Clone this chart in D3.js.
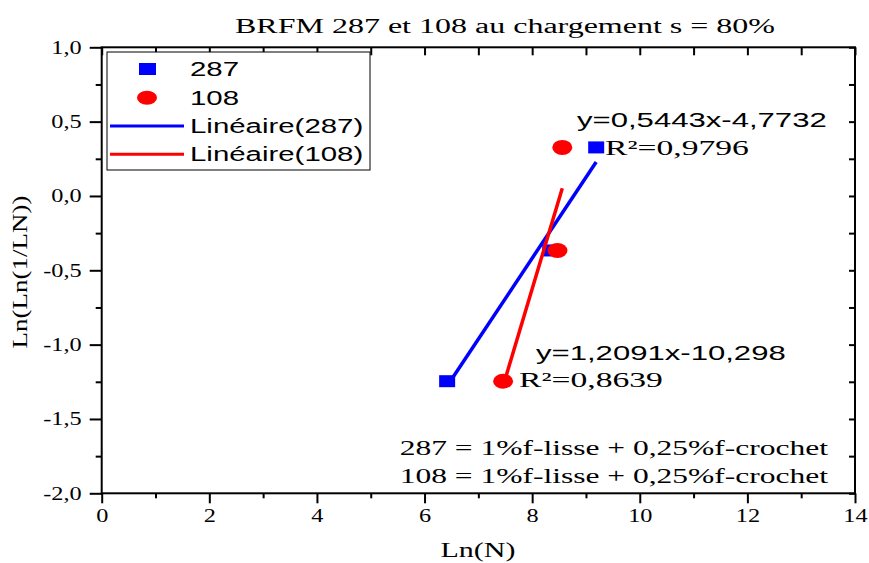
<!DOCTYPE html>
<html>
<head>
<meta charset="utf-8">
<script src="https://cdn.jsdelivr.net/npm/d3@7"></script>
<style>
  body { margin: 0; background: #fff; }
  svg { display: block; }
</style>
</head>
<body>
<svg id="chart" width="869" height="563"></svg>
<script>
// data
const seriesNames = ["287", "108"];
const lnN287 = [6.42, 8.336, 9.19];
const lnLn287 = [-1.2459, -0.3665, 0.3266];
const lnN108 = [7.46, 8.47, 8.56];
const lnLn108 = [-1.2459, -0.3665, 0.3266];
const fitSlope = [0.5443, 1.2091];
const fitIntercept = [-4.7732, -10.298];
const fitEquations = ["y=0,5443x-4,7732", "y=1,2091x-10,298"];
const fitR2 = ["R²=0,9796", "R²=0,8639"];
const xTicks = [0, 2, 4, 6, 8, 10, 12, 14];
const yTicks = [-2, -1.5, -1, -0.5, 0, 0.5, 1];
const notes = ["287 = 1%f-lisse + 0,25%f-crochet", "108 = 1%f-lisse + 0,25%f-crochet"];

const serif = "'Liberation Serif', 'Times New Roman', serif";
const sans = "'Liberation Sans', Arial, sans-serif";
const colors = ["#0000ff", "#ff0000"];

const svg = d3.select("#chart");
const plotL = 101.7, plotR = 855, plotT = 47.3, plotB = 493.3;

const x = d3.scaleLinear().domain([0, 14]).range([plotL, plotR]);
const y = d3.scaleLinear().domain([-2, 1]).range([plotB, plotT]);

const fmt = d => d3.format(".1f")(d).replace(".", ",").replace("−", "-");

// widen text like the original (it was stretched horizontally)
function stretch(sel, k) {
  sel.each(function () {
    const w = this.getComputedTextLength();
    d3.select(this).attr("textLength", w * k).attr("lengthAdjust", "spacingAndGlyphs");
  });
}

// minor ticks
const xMinor = d3.range(1, 14, 2);
const yMinor = d3.range(-1.75, 1, 0.5);

const gx = svg.append("g").attr("transform", `translate(0,${plotB})`);
gx.call(d3.axisBottom(x).tickValues(xMinor).tickSize(5).tickSizeOuter(0).tickFormat(""));
gx.select(".domain").remove();
const gx2 = svg.append("g").attr("transform", `translate(0,${plotB})`)
  .call(d3.axisBottom(x).tickValues(xTicks).tickSize(10).tickSizeOuter(0).tickPadding(6)
    .tickFormat(d => String(d)));
gx2.select(".domain").remove();
gx2.selectAll("text").attr("font-family", serif).attr("font-size", 18).attr("fill", "#000");

const gy = svg.append("g").attr("transform", `translate(${plotL},0)`);
gy.call(d3.axisLeft(y).tickValues(yMinor).tickSize(6).tickSizeOuter(0).tickFormat(""));
gy.select(".domain").remove();
const gy2 = svg.append("g").attr("transform", `translate(${plotL},0)`)
  .call(d3.axisLeft(y).tickValues(yTicks).tickSize(12).tickSizeOuter(0).tickPadding(8).tickFormat(fmt));
gy2.select(".domain").remove();
gy2.selectAll("text").attr("font-family", serif).attr("font-size", 18).attr("fill", "#000");

// inward ticks on top and right
const gt = svg.append("g").attr("transform", `translate(0,${plotT})`)
  .call(d3.axisTop(x).tickValues(d3.range(0, 15, 1)).tickSize(-8).tickSizeOuter(0).tickFormat(""));
gt.select(".domain").remove();
const gr = svg.append("g").attr("transform", `translate(${plotR},0)`)
  .call(d3.axisRight(y).tickValues(d3.range(-2, 1.01, 0.25)).tickSize(-6).tickSizeOuter(0).tickFormat(""));
gr.select(".domain").remove();

svg.selectAll(".tick line").attr("stroke", "#000").attr("stroke-width", 2);

// frame
svg.append("rect")
  .attr("x", plotL).attr("y", plotT)
  .attr("width", plotR - plotL).attr("height", plotB - plotT)
  .attr("fill", "none").attr("stroke", "#000").attr("stroke-width", 2);

stretch(gx2.selectAll("text"), 1.35);
stretch(gy2.selectAll("text"), 1.35);

// points
const pts287 = lnN287.map((v, i) => [v, lnLn287[i]]);
const pts108 = lnN108.map((v, i) => [v, lnLn108[i]]);

svg.append("g").selectAll("rect")
  .data(pts287).join("rect")
  .attr("x", d => x(d[0]) - 8).attr("y", d => y(d[1]) - 6)
  .attr("width", 16).attr("height", 12)
  .attr("fill", colors[0]);

svg.append("g").selectAll("ellipse")
  .data(pts108).join("ellipse")
  .attr("cx", d => x(d[0])).attr("cy", d => y(d[1]))
  .attr("rx", 10).attr("ry", 7.5)
  .attr("fill", colors[1]);

// fitted lines
[lnN287, lnN108].forEach((xs, i) => {
  const ext = d3.extent(xs);
  svg.append("line")
    .attr("x1", x(ext[0])).attr("y1", y(fitSlope[i] * ext[0] + fitIntercept[i]))
    .attr("x2", x(ext[1])).attr("y2", y(fitSlope[i] * ext[1] + fitIntercept[i]))
    .attr("stroke", colors[i]).attr("stroke-width", 3.5);
});

// equation labels
const eqPos = [[577, 127], [536, 360]];
const r2Pos = [[605, 155], [519, 387]];
fitEquations.forEach((t, i) => {
  svg.append("text").attr("x", eqPos[i][0]).attr("y", eqPos[i][1])
    .attr("font-family", sans).attr("font-size", 21).text(t)
    .call(stretch, 1.48);
  svg.append("text").attr("x", r2Pos[i][0]).attr("y", r2Pos[i][1])
    .attr("font-family", serif).attr("font-size", 21).text(fitR2[i])
    .call(stretch, 1.6);
});

// notes
notes.forEach((t, i) => {
  svg.append("text").attr("x", 828).attr("y", 455 + i * 28)
    .attr("text-anchor", "end")
    .attr("font-family", serif).attr("font-size", 21).text(t)
    .call(stretch, 1.5);
});

// legend
const lg = svg.append("g");
lg.append("rect").attr("x", 107).attr("y", 52).attr("width", 263).attr("height", 118)
  .attr("fill", "#fff").attr("stroke", "#000").attr("stroke-width", 1);
const legendLabels = [seriesNames[0], seriesNames[1], `Linéaire(${seriesNames[0]})`, `Linéaire(${seriesNames[1]})`];
const rowY = [69, 97.7, 126, 154.3];
lg.append("rect").attr("x", 139).attr("y", rowY[0] - 6).attr("width", 17).attr("height", 12).attr("fill", colors[0]);
lg.append("ellipse").attr("cx", 147).attr("cy", rowY[1]).attr("rx", 10).attr("ry", 7).attr("fill", colors[1]);
lg.append("line").attr("x1", 110).attr("x2", 184).attr("y1", rowY[2]).attr("y2", rowY[2])
  .attr("stroke", colors[0]).attr("stroke-width", 3);
lg.append("line").attr("x1", 110).attr("x2", 184).attr("y1", rowY[3]).attr("y2", rowY[3])
  .attr("stroke", colors[1]).attr("stroke-width", 3);
lg.selectAll("text.lab").data(legendLabels).join("text").attr("class", "lab")
  .attr("x", 190).attr("y", (d, i) => rowY[i] + 7)
  .attr("font-family", sans).attr("font-size", 20).text(d => d)
  .call(stretch, 1.47);

// title and axis titles
svg.append("text").attr("x", 505).attr("y", 33).attr("text-anchor", "middle")
  .attr("font-family", serif).attr("font-size", 20)
  .text("BRFM 287 et 108 au chargement s = 80%").call(stretch, 1.6);
svg.append("text").attr("x", 478).attr("y", 557).attr("text-anchor", "middle")
  .attr("font-family", serif).attr("font-size", 20)
  .text("Ln(N)").call(stretch, 1.5);
svg.append("text").attr("transform", "translate(27,272) rotate(-90)").attr("text-anchor", "middle")
  .attr("font-family", serif).attr("font-size", 20)
  .text("Ln(Ln(1/LN))").call(stretch, 1.35);
</script>
</body>
</html>
